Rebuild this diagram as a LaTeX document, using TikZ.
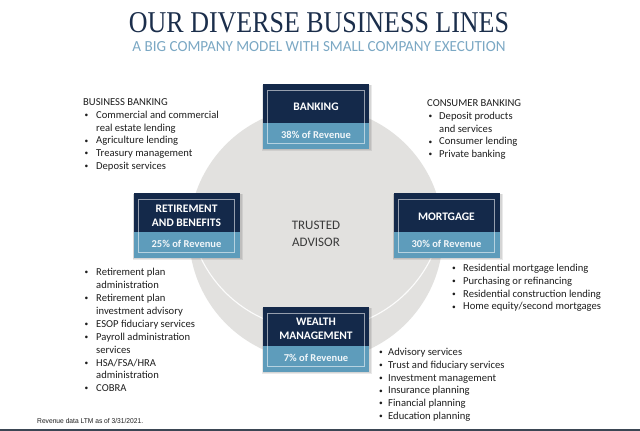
\documentclass[tikz,border=0pt]{standalone}
\usepackage{fontspec}
\usepackage{graphicx}
\setmainfont{Carlito}
\newfontfamily\titlefont{Liberation Serif}
\newfontfamily\footfont{Liberation Sans}
\definecolor{navy}{HTML}{14294A}
\definecolor{lightblue}{HTML}{5E9CBB}
\definecolor{circlegray}{HTML}{E2E1DF}
\definecolor{titlenavy}{HTML}{1B2E4B}
\definecolor{subblue}{HTML}{7BA8C4}
\definecolor{textdark}{HTML}{1E1E1E}
\definecolor{advisorgray}{HTML}{3A3A3A}
\definecolor{barcolor}{HTML}{3B4654}
\newcommand\bl[2]{\makebox[#1][l]{\hspace{1.5pt}\raisebox{0.9pt}{\scalebox{0.7}{\textbullet}}}#2}
\newcommand\cl[2]{\hspace*{#1}#2}
\tikzset{
  darkbox/.style={rectangle, fill=navy, minimum width=106pt, minimum height=38.5pt, inner sep=0pt},
  lightbox/.style={rectangle, fill=lightblue, minimum width=106pt, minimum height=25.5pt, inner sep=0pt,
     text=white!92!lightblue, font=\bfseries\fontsize{10.5}{12}\selectfont},
  boxtitle/.style={inner sep=0pt, text=white, align=center, font=\bfseries\fontsize{11.5}{13.8}\selectfont},
  innerline/.style={draw=white, draw opacity=0.55, line width=0.8pt},
  boxshadow/.style={fill=black!70, opacity=0.12},
  listtext/.style={anchor=north west, inner sep=0pt, align=left, text=textdark,
     font=\fontsize{10.6}{12.9}\selectfont},
}
\newcommand\bizbox[6]{% name, cx, top, title, rev, title shift (down)
  \path (#2,#3) coordinate (#1-top);
  \fill[boxshadow] ([shift={(-53.5,0.5)}]#1-top) rectangle ([shift={(55,65.5)}]#1-top);
  \fill[boxshadow] ([shift={(-54,1)}]#1-top) rectangle ([shift={(56,66.5)}]#1-top);
  \node[darkbox, anchor=north] (#1) at (#1-top) {};
  \node[lightbox, anchor=north] (#1-rev) at (#1.south) {\raisebox{2.5pt}{#5}};
  \node[boxtitle] (#1-t) at ([yshift=-#6]#1.center) {#4};
  \draw[innerline] ([shift={(5,6)}]#1.north west) rectangle ([shift={(-5,-5)}]#1-rev.south east);
}
\begin{document}
\begin{tikzpicture}[x=1pt,y=-1pt]
\useasboundingbox (0,0) rectangle (640,431);
\fill[white] (0,0) rectangle (640,431);
% title
\node[inner sep=0pt] (title) at (319,23) {\resizebox{380pt}{20pt}{\titlefont\color{titlenavy}OUR DIVERSE BUSINESS LINES}};
\node[inner sep=0pt] (subtitle) at (319,47) {\resizebox{373pt}{10pt}{\color{subblue}A BIG COMPANY MODEL WITH SMALL COMPANY EXECUTION}};
% circle
\fill[circlegray] (316,234) circle[radius=127];
\draw[white, line width=1.1pt, opacity=0.9] (316,202) ++(158:128) arc[start angle=158, end angle=22, radius=128];
\node[inner sep=0pt, align=center, text=advisorgray, font=\fontsize{13}{17}\selectfont] (advisor) at (316,234) {TRUSTED\\ADVISOR};
% boxes
\bizbox{bank}{316}{84}{BANKING}{38\% of Revenue}{3.5pt}
\bizbox{ret}{186.5}{193}{RETIREMENT\\AND BENEFITS}{25\% of Revenue}{3.5pt}
\bizbox{mort}{446.5}{193}{MORTGAGE}{30\% of Revenue}{4.5pt}
\bizbox{wealth}{316}{307}{WEALTH\\MANAGEMENT}{7\% of Revenue}{2.5pt}
% lists
\node[listtext] (bizlist) at (83,96) {\strut BUSINESS BANKING\\
 \bl{13pt}{Commercial and commercial}\\
 \cl{13pt}{real estate lending}\\
 \bl{13pt}{Agriculture lending}\\
 \bl{13pt}{Treasury management}\\
 \bl{13pt}{Deposit services}};
\node[listtext] (conslist) at (427,97) {\strut CONSUMER BANKING\\
 \bl{12pt}{Deposit products}\\
 \cl{12pt}{and services}\\
 \bl{12pt}{Consumer lending}\\
 \bl{12pt}{Private banking}};
\node[listtext] (mortlist) at (450.5,262) {\strut\bl{12.5pt}{Residential mortgage lending}\\
 \bl{12.5pt}{Purchasing or refinancing}\\
 \bl{12.5pt}{Residential construction lending}\\
 \bl{12.5pt}{Home equity/second mortgages}};
\node[listtext] (retlist) at (83,266.5) {\strut\bl{13pt}{Retirement plan}\\
 \cl{13pt}{administration}\\
 \bl{13pt}{Retirement plan}\\
 \cl{13pt}{investment advisory}\\
 \bl{13pt}{ESOP fiduciary services}\\
 \bl{13pt}{Payroll administration}\\
 \cl{13pt}{services}\\
 \bl{13pt}{HSA/FSA/HRA}\\
 \cl{13pt}{administration}\\
 \bl{13pt}{COBRA}};
\node[listtext] (wealthlist) at (377.5,346) {\strut\bl{10.5pt}{Advisory services}\\
 \bl{10.5pt}{Trust and fiduciary services}\\
 \bl{10.5pt}{Investment management}\\
 \bl{10.5pt}{Insurance planning}\\
 \bl{10.5pt}{Financial planning}\\
 \bl{10.5pt}{Education planning}};
% footnote
\node[inner sep=0pt, anchor=west] (foot) at (37,421) {\resizebox{106pt}{\height}{\footfont\fontsize{7}{8}\selectfont\color{textdark}Revenue data LTM as of 3/31/2021.}};
% bottom bar
\fill[barcolor] (0,428.5) rectangle (640,431);
\end{tikzpicture}
\end{document}
